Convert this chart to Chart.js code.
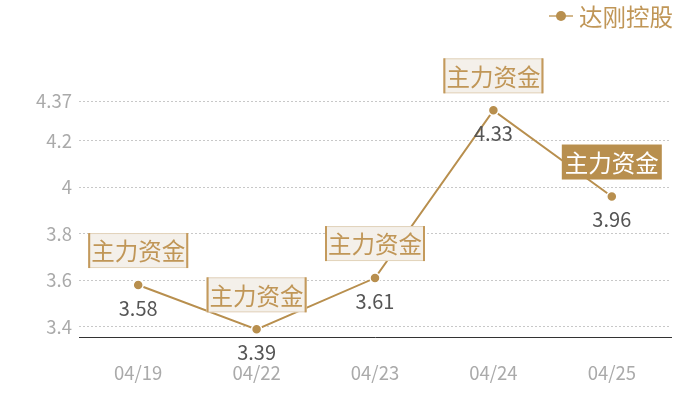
<!DOCTYPE html>
<html>
<head>
<meta charset="utf-8">
<script src="https://cdn.jsdelivr.net/npm/chart.js@4"></script>
<style>
  html, body { margin: 0; padding: 0; background: #fff; }
  #wrap { width: 700px; height: 400px; }
</style>
</head>
<body>
<div id="wrap"><canvas id="grafica"></canvas></div>
<script>
const fechas = ['04/19', '04/22', '04/23', '04/24', '04/25'];
const precios = [3.58, 3.39, 3.61, 4.33, 3.96];
const marcasY = [3.4, 3.6, 3.8, 4, 4.2, 4.37];
const etiquetas = ['主力资金', '主力资金', '主力资金', '主力资金', '主力资金'];
const resaltado = [false, false, false, false, true];
const nombreSerie = '达刚控股';

const dorado = '#b88f4e';
const fuente = '"Noto Sans CJK SC", "Noto Sans", sans-serif';

// cajas "主力资金", valores y leyenda
const anotaciones = {
    id: 'anotaciones',
    afterDatasetsDraw(chart) {
        const ctx = chart.ctx;
        const meta = chart.getDatasetMeta(0);
        ctx.save();
        ctx.textAlign = 'center';
        ctx.textBaseline = 'middle';
        meta.data.forEach((pt, i) => {
            // valor debajo del punto
            ctx.font = '20px ' + fuente;
            ctx.fillStyle = '#555';
            ctx.fillText(String(precios[i]), pt.x, pt.y + 23);

            // caja encima
            const w = 100, h = 35;
            const x = pt.x - w / 2, y = pt.y - 17 - h;
            if (resaltado[i]) {
                ctx.fillStyle = dorado;
                ctx.fillRect(x, y, w, h);
                ctx.fillStyle = '#fff';
            } else {
                ctx.fillStyle = '#f4f0ea';
                ctx.fillRect(x, y, w, h);
                ctx.strokeStyle = '#e2d3bb';
                ctx.lineWidth = 1;
                ctx.strokeRect(x + 0.5, y + 0.5, w - 1, h - 1);
                ctx.fillStyle = '#c49a5c';
                ctx.fillRect(x, y, 2, h);
                ctx.fillRect(x + w - 2, y, 2, h);
                ctx.fillStyle = '#c09657';
            }
            ctx.font = '23.5px ' + fuente;
            ctx.fillText(etiquetas[i], pt.x, y + h / 2 + 1);
        });

        // leyenda
        ctx.strokeStyle = '#d3b88c';
        ctx.lineWidth = 2;
        ctx.beginPath();
        ctx.moveTo(549, 16);
        ctx.lineTo(573, 16);
        ctx.stroke();
        ctx.fillStyle = dorado;
        ctx.beginPath();
        ctx.arc(561, 16, 5, 0, Math.PI * 2);
        ctx.fill();
        ctx.textAlign = 'left';
        ctx.font = '23.5px ' + fuente;
        ctx.fillStyle = '#c09657';
        ctx.fillText(nombreSerie, 579, 17);
        ctx.restore();
    }
};

new Chart(document.getElementById('grafica'), {
    type: 'line',
    data: {
        labels: fechas,
        datasets: [{
            label: nombreSerie,
            data: precios,
            borderColor: dorado,
            borderWidth: 2,
            backgroundColor: dorado,
            pointRadius: 5,
            pointBorderColor: '#fff',
            pointBorderWidth: 1.5,
            tension: 0
        }]
    },
    options: {
        responsive: true,
        maintainAspectRatio: false,
        animation: false,
        layout: { padding: { top: 101, right: 29, left: 0, bottom: 0 } },
        plugins: {
            legend: { display: false },
            tooltip: { enabled: false }
        },
        scales: {
            x: {
                offset: true,
                afterFit: (scale) => { scale.height = 63; },
                grid: { display: false, drawTicks: false },
                border: { display: true, color: '#333', width: 1 },
                ticks: {
                    color: '#aaa',
                    padding: 25,
                    font: { size: 18.5, family: fuente }
                }
            },
            y: {
                min: 3.357,
                max: 4.37,
                afterFit: (scale) => { scale.width = 79; },
                afterBuildTicks: (scale) => {
                    scale.ticks = marcasY.map(v => ({ value: v }));
                },
                grid: {
                    color: '#c8c8c8',
                    drawTicks: false
                },
                border: { display: false, dash: [2, 2] },
                ticks: {
                    color: '#aaa',
                    padding: 7,
                    font: { size: 18.5, family: fuente },
                    callback: (v) => String(v)
                }
            }
        }
    },
    plugins: [anotaciones]
});
</script>
</body>
</html>
